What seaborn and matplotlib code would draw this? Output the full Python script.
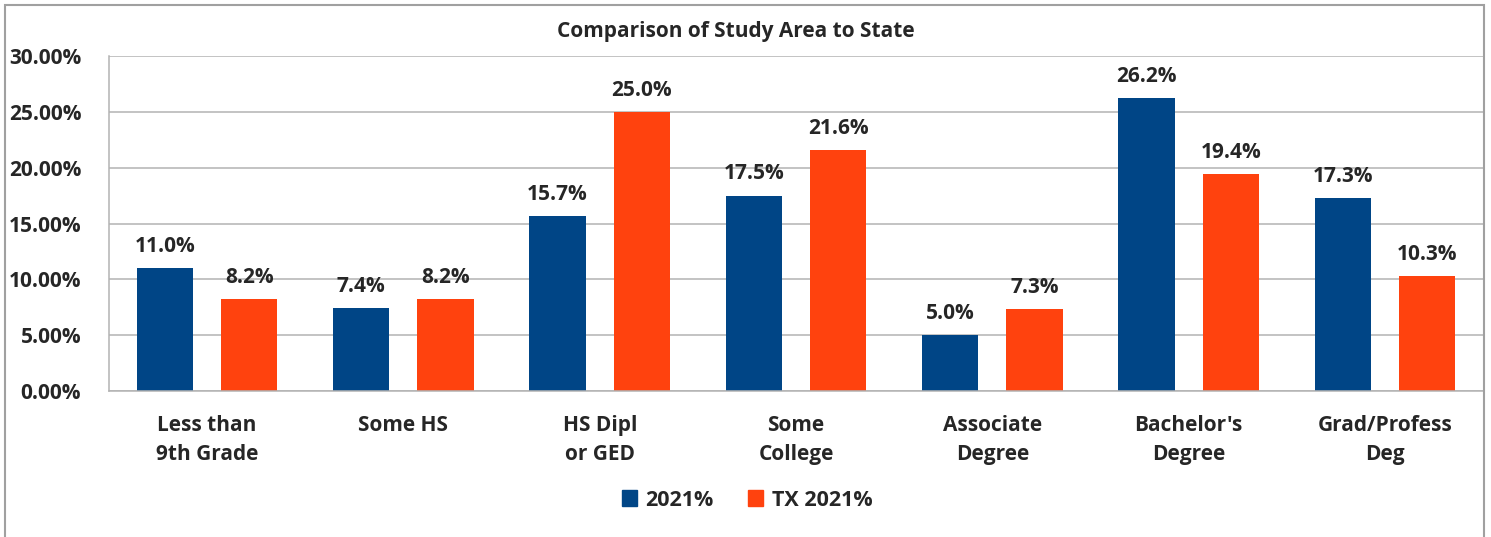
import numpy as np
import pandas as pd
import matplotlib.pyplot as plt
import matplotlib.patches as mpatches
import seaborn as sns

levels = ['Less than\n9th Grade', 'Some HS', 'HS Dipl\nor GED', 'Some\nCollege',
          'Associate\nDegree', "Bachelor's\nDegree", 'Grad/Profess\nDeg']
area_2021 = [11.0, 7.4, 15.7, 17.5, 5.0, 26.2, 17.3]
tx_2021 = [8.2, 8.2, 25.0, 21.6, 7.3, 19.4, 10.3]
series = ['2021%', 'TX 2021%']
colors = ['#004586', '#ff420e']
yticks = [0, 5, 10, 15, 20, 25, 30]

df = pd.DataFrame({
    'level': levels * 2,
    'pct': area_2021 + tx_2021,
    'series': [series[0]] * len(levels) + [series[1]] * len(levels),
})

sns.set_style('white')
plt.rcParams['font.family'] = ['Open Sans', 'DejaVu Sans']
plt.rcParams['font.weight'] = 'bold'

fig = plt.figure(figsize=(14.91, 5.37), dpi=100)
ax = fig.add_axes([109 / 1491, 1 - 391 / 537, (1483 - 109) / 1491, (391 - 56) / 537])

sns.barplot(data=df, x='level', y='pct', hue='series', palette=colors, saturation=1,
            width=0.86, gap=0.333, linewidth=0, legend=False, ax=ax)

# value labels
for cont in ax.containers:
    ax.bar_label(cont, fmt='%.1f%%', padding=8, fontsize=15, fontweight='bold')

ax.set_ylim(0, 30)
ax.set_xlim(-0.5, len(levels) - 0.5)
ax.set_yticks(yticks)
ax.set_yticklabels([f'{v:.2f}%' for v in yticks], fontsize=15, fontweight='bold')
ax.tick_params(axis='y', length=0, pad=20)
ax.yaxis.grid(True, color='#b3b3b3', linewidth=1.1)
ax.set_axisbelow(True)

ax.set_xticks(range(len(levels)))
ax.set_xticklabels(levels, fontsize=15, fontweight='bold', linespacing=1.55, va='top')
ax.tick_params(axis='x', length=0, pad=17)
ax.set_xticks(np.arange(-0.5, len(levels)), minor=True)
ax.tick_params(axis='x', which='minor', length=7, color='#b3b3b3', width=1.1)

ax.set_xlabel('')
ax.set_ylabel('')
for side in ['top', 'right']:
    ax.spines[side].set_visible(False)
for side in ['left', 'bottom']:
    ax.spines[side].set_color('#b3b3b3')
    ax.spines[side].set_linewidth(1.1)

fig.text(736 / 1491, 1 - 31 / 537, 'Comparison of Study Area to State',
         ha='center', va='center', fontsize=15, fontweight='bold')

handles = [mpatches.Patch(color=c, label=s) for c, s in zip(colors, series)]
fig.legend(handles=handles, loc='center', bbox_to_anchor=(747 / 1491, 1 - 500 / 537),
           ncol=2, frameon=False, handlelength=0.7, handleheight=0.7,
           handletextpad=0.4, columnspacing=1.6, prop={'weight': 'bold', 'size': 15.5})

# outer chart frame
fig.patches.append(mpatches.Rectangle((5 / 1491, -0.02), (1484 - 5) / 1491, 1.02 - 5 / 537,
                                      transform=fig.transFigure, fill=False,
                                      edgecolor='#a0a0a0', linewidth=1.5))

fig.savefig('out.png', dpi=100)
